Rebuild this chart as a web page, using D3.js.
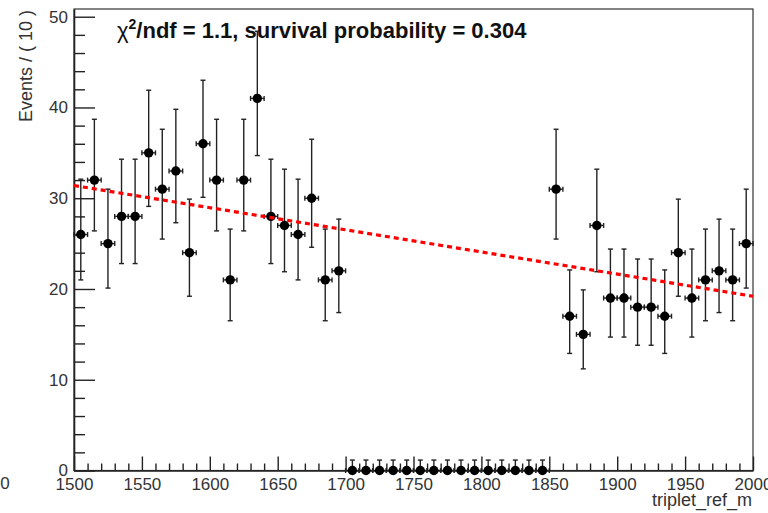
<!DOCTYPE html>
<html><head><meta charset="utf-8">
<script src="https://cdn.jsdelivr.net/npm/d3@7"></script>
<style>
html,body{margin:0;padding:0;background:#fff;}
svg{display:block;font-family:"Liberation Sans",Arial,sans-serif;}
</style></head>
<body>
<svg id="chart" width="768" height="513"></svg>
<script>
// Bin centres (bin width 10)
const binCenters = [1505,1515,1525,1535,1545,1555,1565,1575,1585,1595,1605,1615,1625,1635,1645,1655,1665,1675,1685,1695,
  1705,1715,1725,1735,1745,1755,1765,1775,1785,1795,1805,1815,1825,1835,1845,
  1855,1865,1875,1885,1895,1905,1915,1925,1935,1945,1955,1965,1975,1985,1995];
const counts = [26,32,25,28,28,35,31,33,24,36,32,21,32,41,28,27,26,30,21,22,
  0,0,0,0,0,0,0,0,0,0,0,0,0,0,0,
  31,17,15,27,19,19,18,18,17,24,19,21,22,21,25];
// error bars (down / up)
const errLow = [5.0,5.6,4.9,5.2,5.2,5.9,5.5,5.7,4.8,5.9,5.6,4.5,5.6,6.3,5.2,5.1,5.0,5.4,4.5,4.6,
  0,0,0,0,0,0,0,0,0,0,0,0,0,0,0,
  5.5,4.1,3.8,5.1,4.3,4.3,4.2,4.2,4.1,4.8,4.3,4.5,4.6,4.5,4.9];
const errHigh = [6.1,6.7,6.0,6.3,6.3,6.9,6.6,6.8,5.9,7.0,6.7,5.6,6.7,7.4,6.3,6.2,6.1,6.5,5.6,5.7,
  1.15,1.15,1.15,1.15,1.15,1.15,1.15,1.15,1.15,1.15,1.15,1.15,1.15,1.15,1.15,
  6.6,5.1,4.9,6.2,5.4,5.4,5.3,5.3,5.1,5.9,5.4,5.6,5.7,5.6,6.0];
const binHalfWidth = 5;
// fit curve points
const fitX = [1500, 1750, 2000];
const fitY = [31.4, 25.3, 19.2];
const xMajorTicks = [1500,1550,1600,1650,1700,1750,1800,1850,1900,1950,2000];
const yMajorTicks = [0,10,20,30,40,50];
const titleMain = "/ndf = 1.1, survival probability = 0.304";

const svg = d3.select("#chart");
const x = d3.scaleLinear().domain([1500, 2000]).range([74, 753]);
const y = d3.scaleLinear().domain([0, 50.85]).range([470.5, 9]);
const axisColor = "#222";

// Frame
svg.append("rect").attr("x", 74).attr("y", 9).attr("width", 753-74).attr("height", 470.5-9)
  .attr("fill", "none").attr("stroke", "#333").attr("stroke-width", 1.2);

// Y axis
const yMinor = d3.range(0, 51, 2).filter(v => v % 10 !== 0);
svg.append("g").attr("transform", "translate(74,0)")
  .call(d3.axisLeft(y).tickValues(yMinor).tickSizeInner(-11).tickSizeOuter(0).tickFormat(""))
  .call(g => g.select(".domain").remove())
  .call(g => g.selectAll("line").attr("stroke", axisColor).attr("stroke-width", 1.4));
svg.append("g").attr("transform", "translate(74,0)")
  .call(d3.axisLeft(y).tickValues(yMajorTicks).tickSizeInner(-21).tickSizeOuter(0).tickPadding(6).tickFormat(d3.format("d")))
  .call(g => g.select(".domain").attr("stroke", axisColor).attr("stroke-width", 1.6))
  .call(g => g.selectAll("line").attr("stroke", axisColor).attr("stroke-width", 1.4))
  .call(g => g.selectAll("text").attr("font-size", 17).attr("fill", "#333").attr("font-family", "Liberation Sans, Arial, sans-serif"));

// X axis
const xMinor = d3.range(1500, 2001, 10).filter(v => v % 50 !== 0);
svg.append("g").attr("transform", "translate(0,470.5)")
  .call(d3.axisBottom(x).tickValues(xMinor).tickSizeInner(-7).tickSizeOuter(0).tickFormat(""))
  .call(g => g.select(".domain").remove())
  .call(g => g.selectAll("line").attr("stroke", axisColor).attr("stroke-width", 1.4));
svg.append("g").attr("transform", "translate(0,470.5)")
  .call(d3.axisBottom(x).tickValues(xMajorTicks).tickSizeInner(-14).tickSizeOuter(0).tickPadding(7).tickFormat(d3.format("d")))
  .call(g => g.select(".domain").attr("stroke", axisColor).attr("stroke-width", 1.6))
  .call(g => g.selectAll("line").attr("stroke", axisColor).attr("stroke-width", 1.4))
  .call(g => g.selectAll("text").attr("font-size", 17).attr("fill", "#333").attr("font-family", "Liberation Sans, Arial, sans-serif"));

// stray clipped label at far left
svg.append("text").attr("x", 5).attr("y", 489).attr("text-anchor", "middle")
  .attr("font-size", 17).attr("fill", "#333").text("0");

// Axis titles
svg.append("text").attr("transform", "translate(32,10) rotate(-90)")
  .attr("text-anchor", "end").attr("font-size", 18).attr("fill", "#333").text("Events / ( 10 )");
svg.append("text").attr("x", 752).attr("y", 506).attr("text-anchor", "end")
  .attr("font-size", 18).attr("fill", "#333").text("triplet_ref_m");

// Data
const data = binCenters.map((c, i) => ({x: c, y: counts[i], lo: errLow[i], hi: errHigh[i]}));
const eg = svg.append("g").attr("stroke", "#222").attr("stroke-width", 1.4).attr("fill", "none");
data.forEach(d => {
  const cx = x(d.x), cy = y(d.y);
  eg.append("line").attr("x1", cx).attr("x2", cx).attr("y1", y(d.y - d.lo)).attr("y2", y(d.y + d.hi));
  eg.append("line").attr("x1", cx-2.5).attr("x2", cx+2.5).attr("y1", y(d.y + d.hi)).attr("y2", y(d.y + d.hi));
  if (d.lo > 0) eg.append("line").attr("x1", cx-2.5).attr("x2", cx+2.5).attr("y1", y(d.y - d.lo)).attr("y2", y(d.y - d.lo));
  const xl = x(d.x - binHalfWidth), xr = x(d.x + binHalfWidth);
  eg.append("line").attr("x1", xl).attr("x2", xr).attr("y1", cy).attr("y2", cy);
  eg.append("line").attr("x1", xl).attr("x2", xl).attr("y1", cy-2.5).attr("y2", cy+2.5);
  eg.append("line").attr("x1", xr).attr("x2", xr).attr("y1", cy-2.5).attr("y2", cy+2.5);
});
svg.append("g").selectAll("circle").data(data).join("circle")
  .attr("cx", d => x(d.x)).attr("cy", d => y(d.y)).attr("r", 4.7).attr("fill", "#000");

// Fit line
const line = d3.line().x((d, i) => x(fitX[i])).y((d, i) => y(fitY[i]));
svg.append("path").datum(fitX).attr("d", line)
  .attr("fill", "none").attr("stroke", "#ff0000").attr("stroke-width", 3.2).attr("stroke-dasharray", "5,4");

// Title text
const t = svg.append("text").attr("x", 117).attr("y", 38).attr("font-size", 22).attr("font-weight", "bold").attr("fill", "#111");
t.append("tspan").attr("font-weight", "normal").text("\u03C7");
t.append("tspan").attr("font-size", 14).attr("dy", -9).text("2");
t.append("tspan").attr("dy", 9).text(titleMain);
</script>
</body></html>
